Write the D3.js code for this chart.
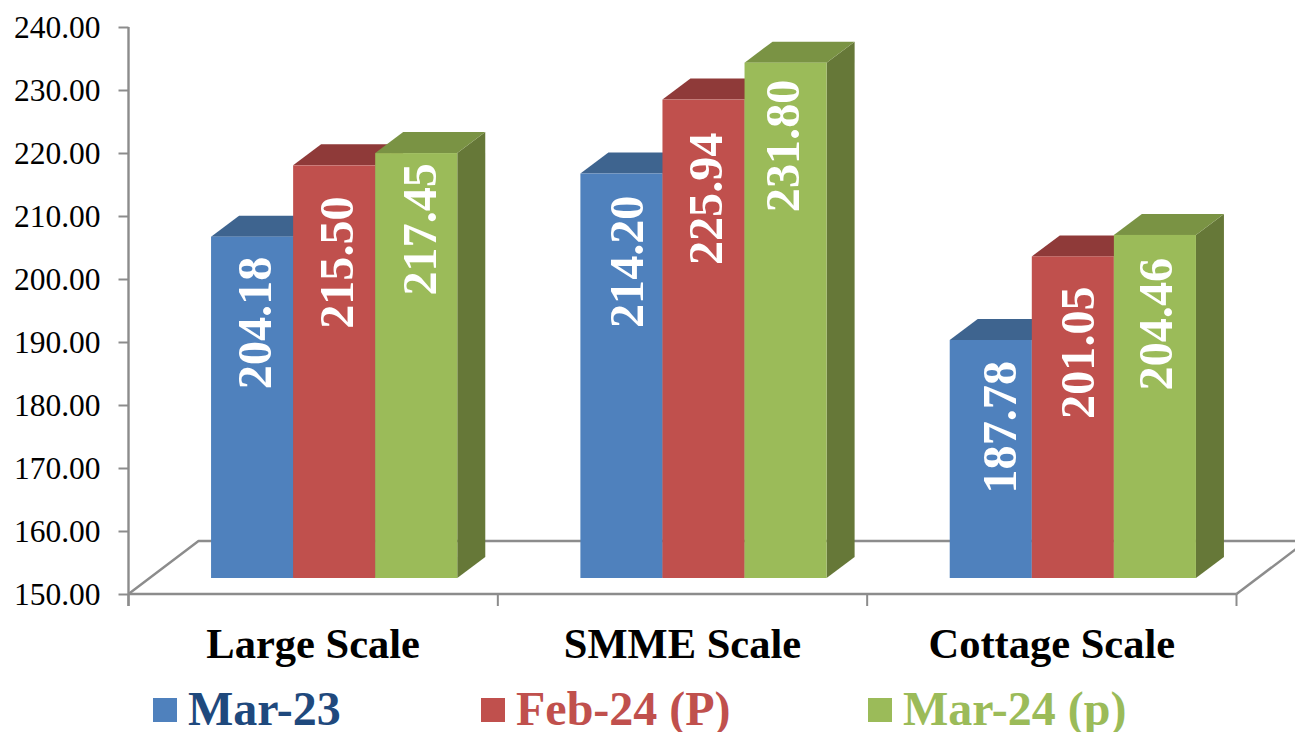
<!DOCTYPE html>
<html>
<head>
<meta charset="utf-8">
<script src="https://d3js.org/d3.v7.min.js"></script>
<style>
html, body { margin: 0; padding: 0; background: #fff; overflow: hidden; }
text { font-family: "Liberation Serif", serif; }
</style>
</head>
<body>
<script>
var categories = ["Large Scale", "SMME Scale", "Cottage Scale"];
var seriesNames = ["Mar-23", "Feb-24 (P)", "Mar-24 (p)"];
var mar23 = [204.18, 214.20, 187.78];
var feb24 = [215.50, 225.94, 201.05];
var mar24 = [217.45, 231.80, 204.46];
var seriesValues = [mar23, feb24, mar24];
var yTicks = [150, 160, 170, 180, 190, 200, 210, 220, 230, 240];

var w = 1295;
var h = 732;
var axisGray = "#8c8c8c";

var front = ["#4f81bd", "#c0504d", "#9bbb59"];
var topFace = ["#3e648f", "#8f3a39", "#7a9344"];
var sideFace = ["#3a5b85", "#843634", "#667838"];
var legendText = ["#1f497d", "#c0504d", "#9bbb59"];

// the labels were placed by hand in the original: gap below each bar top, sideways nudge
var labelGap = [[20, 31, 10], [22, 33, 17], [21, 30, 23]];
var labelNudge = [[1, 1, 2], [4, 0, -5], [7, 3, -1]];

var floorDx = 70, floorDy = 53;     //depth of the chart floor
var barDx = 28, barDy = 21;         //depth of one bar
var shiftX = 21, shiftY = 16;       //bars stand a bit behind the front edge

var svg = d3.select("body")
    .append("svg")
    .attr("width", w)
    .attr("height", h)
    .style("display", "block");

var y = d3.scaleLinear().domain([150, 240]).range([594, 27]);

var x0 = d3.scaleBand()
    .domain(categories)
    .range([128.5, 1236.5])
    .paddingInner(1 / 3)
    .paddingOuter(1 / 6);

var x1 = d3.scaleBand()
    .domain(d3.range(seriesNames.length))
    .range([0, x0.bandwidth()]);

var xLeft = x0.range()[0], xRight = x0.range()[1], yBase = y(150);

// floor
var line = d3.line();
svg.append("path")
    .attr("fill", "none")
    .attr("stroke", axisGray)
    .attr("stroke-width", 2.4)
    .attr("stroke-linejoin", "round")
    .attr("d", line([[xLeft, yBase], [xLeft + floorDx, yBase - floorDy], [w, yBase - floorDy]]));
svg.append("path")
    .attr("fill", "none")
    .attr("stroke", axisGray)
    .attr("stroke-width", 2.4)
    .attr("d", line([[xRight, yBase], [xRight + floorDx, yBase - floorDy]]));

// y axis
var yAxis = svg.append("g")
    .attr("transform", "translate(" + xLeft + ",0)")
    .call(d3.axisLeft(y).tickValues(yTicks).tickSize(10).tickPadding(18)
        .tickFormat(function(d) { return d3.format(".2f")(d); }));
yAxis.selectAll("line").attr("stroke", axisGray).attr("stroke-width", 2);
yAxis.select(".domain").attr("stroke", axisGray).attr("stroke-width", 2.4)
    .attr("d", "M0," + y(240) + "V" + (yBase + 12));
yAxis.selectAll("text").attr("fill", "#000").style("font-size", "31.5px")
    .style("font-family", "'Liberation Serif', serif").attr("x", -28);

// x axis line and ticks on the group edges
var edges = [0, 1, 2, 3].map(function(i) { return xLeft + i * x0.step(); });
svg.append("line")
    .attr("x1", xLeft).attr("x2", xRight)
    .attr("y1", yBase).attr("y2", yBase)
    .attr("stroke", axisGray).attr("stroke-width", 2.4);
svg.selectAll("line.xtick")
    .data(edges)
    .enter()
    .append("line")
    .attr("class", "xtick")
    .attr("x1", function(d) { return d; })
    .attr("x2", function(d) { return d; })
    .attr("y1", yBase)
    .attr("y2", yBase + 12)
    .attr("stroke", axisGray)
    .attr("stroke-width", 2);

// bars, left to right so every bar covers the depth of the one before it
categories.forEach(function(cat, c) {
    seriesValues.forEach(function(values, s) {
        var left = x0(cat) + x1(s) + shiftX;
        var right = left + x1.bandwidth();
        var top = y(values[c]) - shiftY;
        var bottom = yBase - shiftY;

        svg.append("path")
            .attr("fill", sideFace[s])
            .attr("d", line([[right, top], [right + barDx, top - barDy],
                [right + barDx, bottom - barDy], [right, bottom]]) + "Z");
        svg.append("path")
            .attr("fill", topFace[s])
            .attr("d", line([[left, top], [left + barDx, top - barDy],
                [right + barDx, top - barDy], [right, top]]) + "Z");
        svg.append("rect")
            .attr("x", left)
            .attr("y", top)
            .attr("width", right - left)
            .attr("height", bottom - top)
            .attr("fill", front[s]);
    });
});

// value labels go on top of all the bars
categories.forEach(function(cat, c) {
    seriesValues.forEach(function(values, s) {
        var cx = x0(cat) + x1(s) + shiftX + x1.bandwidth() / 2 + labelNudge[c][s];
        var top = y(values[c]) - shiftY + labelGap[c][s];
        svg.append("text")
            .attr("transform", "translate(" + (cx + 18) + "," + top + ") rotate(-90)")
            .attr("text-anchor", "end")
            .attr("fill", "#fff")
            .style("font-size", "48.2px")
            .style("font-weight", "bold")
            .text(values[c].toFixed(2));
    });
});

// category labels
svg.selectAll("text.cat")
    .data(categories)
    .enter()
    .append("text")
    .attr("class", "cat")
    .attr("x", function(d) { return x0(d) + x0.bandwidth() / 2; })
    .attr("y", 658)
    .attr("text-anchor", "middle")
    .attr("fill", "#000")
    .style("font-size", "42.5px")
    .style("font-weight", "bold")
    .text(function(d) { return d; });

// legend
var legendX = d3.scaleOrdinal().domain(seriesNames).range([153, 481, 868]);
var legend = svg.selectAll("g.legend")
    .data(seriesNames)
    .enter()
    .append("g")
    .attr("class", "legend")
    .attr("transform", function(d) { return "translate(" + legendX(d) + ",0)"; });
legend.append("rect")
    .attr("y", 698)
    .attr("width", 24)
    .attr("height", 24)
    .attr("fill", function(d, i) { return front[i]; });
legend.append("text")
    .attr("x", 35)
    .attr("y", 725)
    .attr("fill", function(d, i) { return legendText[i]; })
    .style("font-size", "48px")
    .style("font-weight", "bold")
    .text(function(d) { return d; });
</script>
</body>
</html>
